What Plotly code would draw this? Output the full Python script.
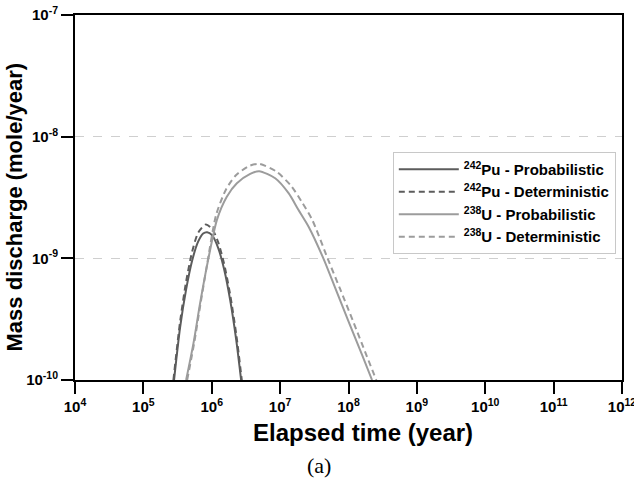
import plotly.graph_objects as go

# Mass discharge curves (time in years, discharge in mole/year)
pu_prob_time = [2.81e5, 3.44e5, 4.22e5, 5.16e5, 6.32e5, 7.48e5, 8.57e5,
                1.01e6, 1.24e6, 1.52e6, 1.86e6, 2.28e6, 2.69e6]
pu_prob_mass = [1.0e-10, 2.69e-10, 5.55e-10, 9.55e-10, 1.37e-9, 1.60e-9, 1.64e-9,
                1.55e-9, 1.22e-9, 8.1e-10, 4.54e-10, 2.14e-10, 1.0e-10]

pu_det_time = [2.75e5, 3.44e5, 4.22e5, 5.16e5, 6.32e5, 8.18e5,
               1.01e6, 1.24e6, 1.52e6, 1.86e6, 2.28e6, 2.75e6]
pu_det_mass = [1.0e-10, 3.0e-10, 6.44e-10, 1.13e-9, 1.62e-9, 1.90e-9,
               1.75e-9, 1.36e-9, 8.95e-10, 5.01e-10, 2.38e-10, 1.0e-10]

u_prob_time = [4.22e5, 5.40e5, 6.76e5, 8.47e5, 1.19e6, 1.66e6, 2.33e6, 3.65e6,
               4.94e6, 8.47e6, 1.33e7, 1.84e7, 2.61e7, 4.32e7, 6.41e7, 1.00e8,
               1.58e8, 2.21e8]
u_prob_mass = [1.0e-10, 2.0e-10, 4.28e-10, 8.55e-10, 2.07e-9, 3.21e-9, 4.14e-9, 4.94e-9,
               5.20e-9, 4.55e-9, 3.43e-9, 2.52e-9, 1.82e-9, 9.9e-10, 5.68e-10, 3.03e-10,
               1.61e-10, 1.0e-10]

u_det_time = [4.37e5, 5.52e5, 6.87e5, 8.57e5, 1.16e6, 1.63e6, 2.28e6, 3.53e6,
              4.94e6, 8.77e6, 1.45e7, 2.07e7, 2.95e7, 4.98e7, 7.46e7, 1.17e8,
              1.82e8, 2.55e8]
u_det_mass = [1.0e-10, 2.0e-10, 4.28e-10, 9.0e-10, 2.28e-9, 3.72e-9, 4.84e-9, 5.74e-9,
              5.97e-9, 5.18e-9, 3.94e-9, 2.91e-9, 2.07e-9, 9.9e-10, 5.68e-10, 3.03e-10,
              1.61e-10, 1.0e-10]

series_names = ["<b><sup>242</sup>Pu - Probabilistic</b>",
                "<b><sup>242</sup>Pu - Deterministic</b>",
                "<b><sup>238</sup>U - Probabilistic</b>",
                "<b><sup>238</sup>U - Deterministic</b>"]

x_tick_exp = [4, 5, 6, 7, 8, 9, 10, 11, 12]
y_tick_exp = [-10, -9, -8, -7]
x_tick_vals = [10.0 ** e for e in x_tick_exp]
y_tick_vals = [10.0 ** e for e in y_tick_exp]
x_tick_text = ["<b>10<sup>%d</sup></b>" % e for e in x_tick_exp]
y_tick_text = ["<b>10<sup>%d</sup></b>" % e for e in y_tick_exp]

x_title = "<b>Elapsed time (year)</b>"
y_title = "<b>Mass discharge (mole/year)</b>"
panel_label = "(a)"

PU_COLOR = "#5c5c5c"
U_COLOR = "#9c9c9c"
FONT = "Liberation Sans, Arial, sans-serif"
SERIF = "Liberation Serif, Times New Roman, serif"

fig = go.Figure()
fig.add_trace(go.Scatter(x=pu_prob_time, y=pu_prob_mass, mode="lines", name=series_names[0],
                         line=dict(color=PU_COLOR, width=2, shape="spline", smoothing=0.7)))
fig.add_trace(go.Scatter(x=pu_det_time, y=pu_det_mass, mode="lines", name=series_names[1],
                         line=dict(color=PU_COLOR, width=2, dash="6px,4px", shape="spline", smoothing=0.7)))
fig.add_trace(go.Scatter(x=u_prob_time, y=u_prob_mass, mode="lines", name=series_names[2],
                         line=dict(color=U_COLOR, width=2, shape="spline", smoothing=0.7)))
fig.add_trace(go.Scatter(x=u_det_time, y=u_det_mass, mode="lines", name=series_names[3],
                         line=dict(color=U_COLOR, width=2, dash="6px,4px", shape="spline", smoothing=0.7)))

axis_common = dict(
    type="log", automargin=False, ticklabeloverflow="allow",
    tickfont=dict(size=15, family=FONT, color="black"),
    ticks="outside", ticklen=12, tickwidth=2, tickcolor="black",
    showline=True, linewidth=2, linecolor="black", mirror=True,
    zeroline=False,
)

fig.update_layout(
    width=634, height=480,
    margin=dict(l=75, r=12, t=15, b=100),
    paper_bgcolor="white", plot_bgcolor="white",
    font=dict(family=FONT, color="black"),
    showlegend=True,
    legend=dict(x=0.581, y=0.625, xanchor="left", yanchor="top",
                bgcolor="white", bordercolor="#c8c8c8", borderwidth=1,
                font=dict(size=15, family=FONT, color="black"),
                itemwidth=60, tracegroupgap=0),
    xaxis=dict(range=[4, 12], tickvals=x_tick_vals, ticktext=x_tick_text,
               showgrid=False, **axis_common),
    yaxis=dict(range=[-10, -7], tickvals=y_tick_vals, ticktext=y_tick_text,
               showgrid=True, gridcolor="#cfcfcf", gridwidth=1, griddash="dash",
               **axis_common),
    annotations=[
        dict(text=x_title, xref="paper", yref="paper", x=0.5265, y=-0.145,
             xanchor="center", yanchor="middle", showarrow=False,
             font=dict(size=24, family=FONT, color="black")),
        dict(text=y_title, xref="paper", yref="paper", x=-0.11, y=0.475,
             xanchor="center", yanchor="middle", showarrow=False, textangle=-90,
             font=dict(size=22, family=FONT, color="black")),
        dict(text=panel_label, xref="paper", yref="paper", x=0.446, y=-0.2356,
             xanchor="center", yanchor="middle", showarrow=False,
             font=dict(size=22, family=SERIF, color="black")),
    ],
)

fig.write_html("out.html")
